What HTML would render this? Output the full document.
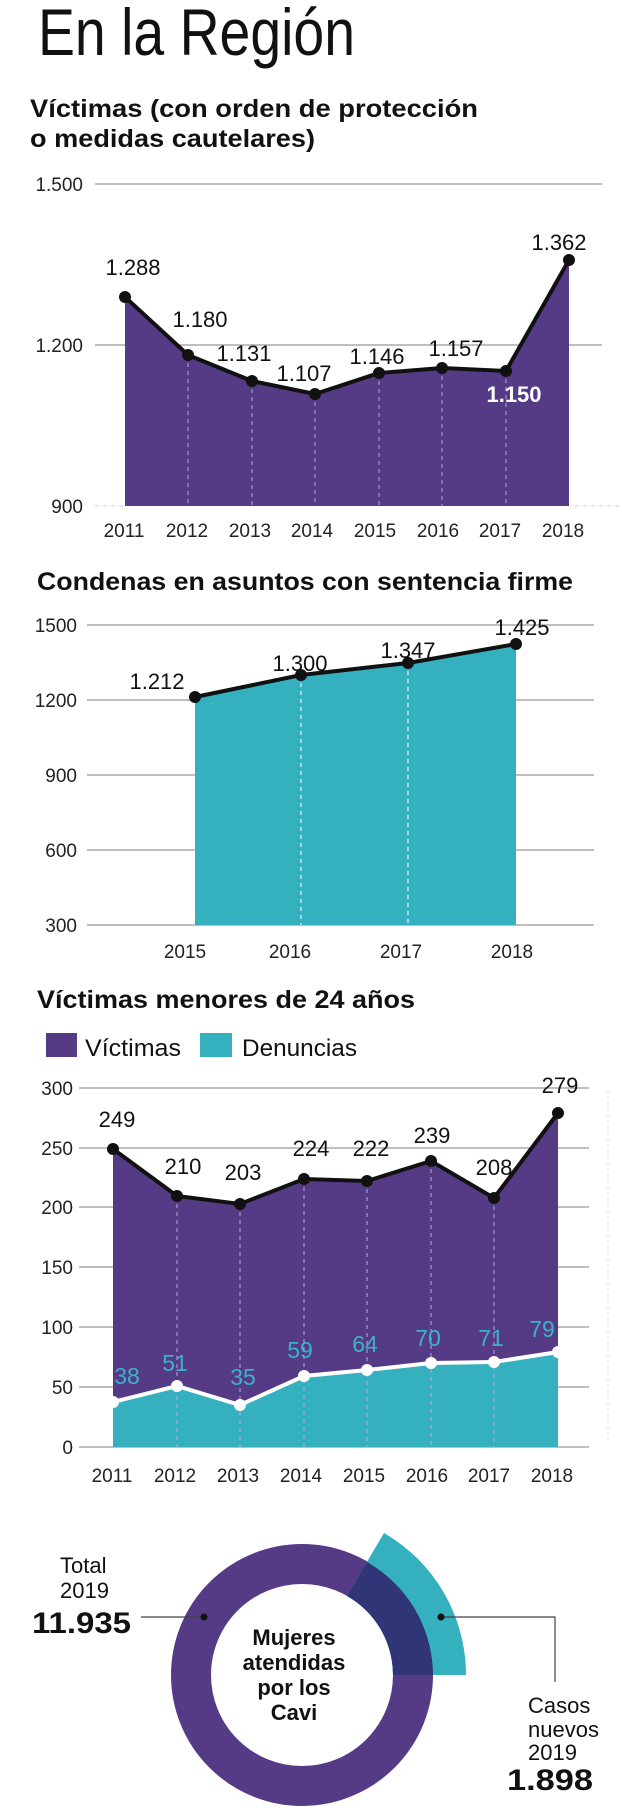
<!DOCTYPE html>
<html><head><meta charset="utf-8"><style>
html,body{margin:0;padding:0;background:#fff}
svg{display:block}
text{font-family:"Liberation Sans Narrow","Liberation Sans",sans-serif;fill:#111}
.t{font-family:"Liberation Sans",sans-serif;font-weight:300}
.h{font-weight:bold;font-size:25px}
.ax{font-size:19px}
.ax text{fill:#222}
.v{font-size:22px}
.tv{font-size:23px}
.tv text{fill:#3ab4c6}
.g{stroke:#aaa;stroke-width:1.5}
.d{stroke:#b9a8dc;stroke-width:1;stroke-dasharray:4 4}
</style></head><body>
<svg width="622" height="1820" viewBox="0 0 622 1820" xmlns="http://www.w3.org/2000/svg">
<text class="t" x="38" y="55" font-size="66" textLength="317" lengthAdjust="spacingAndGlyphs">En la Región</text>
<text class="h" x="30" y="117" textLength="448" lengthAdjust="spacingAndGlyphs">Víctimas (con orden de protección</text>
<text class="h" x="30" y="147" textLength="285" lengthAdjust="spacingAndGlyphs">o medidas cautelares)</text>

<!-- chart 1 -->
<line class="g" x1="95" y1="184" x2="602" y2="184"/>
<line class="g" x1="95" y1="345" x2="602" y2="345"/>
<line x1="95" y1="506" x2="125" y2="506" stroke="#ccc" stroke-dasharray="4 4"/>
<line x1="575" y1="506" x2="622" y2="506" stroke="#ccc" stroke-dasharray="4 4"/>
<g class="ax" text-anchor="end"><text x="83" y="191">1.500</text><text x="83" y="352">1.200</text><text x="83" y="513">900</text></g>
<polygon fill="#553a86" points="125,506 125,297 188,355 252,381 315,394 379,373 442,368 506,371 569,260 569,506"/>
<g class="d"><line x1="188" y1="355" x2="188" y2="506"/><line x1="252" y1="381" x2="252" y2="506"/><line x1="315" y1="394" x2="315" y2="506"/><line x1="379" y1="373" x2="379" y2="506"/><line x1="442" y1="368" x2="442" y2="506"/><line x1="506" y1="371" x2="506" y2="506"/></g>
<polyline fill="none" stroke="#111" stroke-width="4" points="125,297 188,355 252,381 315,394 379,373 442,368 506,371 569,260"/>
<g fill="#111"><circle cx="125" cy="297" r="6"/><circle cx="188" cy="355" r="6"/><circle cx="252" cy="381" r="6"/><circle cx="315" cy="394" r="6"/><circle cx="379" cy="373" r="6"/><circle cx="442" cy="368" r="6"/><circle cx="506" cy="371" r="6"/><circle cx="569" cy="260" r="6"/></g>
<g class="v" text-anchor="middle"><text x="133" y="275">1.288</text><text x="200" y="327">1.180</text><text x="244" y="361">1.131</text><text x="304" y="381">1.107</text><text x="377" y="364">1.146</text><text x="456" y="356">1.157</text><text x="514" y="402" style="fill:#fff;font-weight:bold">1.150</text><text x="559" y="250">1.362</text></g>
<g class="ax" text-anchor="middle"><text x="124" y="537">2011</text><text x="187" y="537">2012</text><text x="250" y="537">2013</text><text x="312" y="537">2014</text><text x="375" y="537">2015</text><text x="438" y="537">2016</text><text x="500" y="537">2017</text><text x="563" y="537">2018</text></g>

<!-- chart 2 -->
<text class="h" x="37" y="590" textLength="536" lengthAdjust="spacingAndGlyphs">Condenas en asuntos con sentencia firme</text>
<g class="g"><line x1="87" y1="625" x2="594" y2="625"/><line x1="87" y1="700" x2="594" y2="700"/><line x1="87" y1="775" x2="594" y2="775"/><line x1="87" y1="850" x2="594" y2="850"/><line x1="87" y1="925" x2="594" y2="925"/></g>
<g class="ax" text-anchor="end"><text x="77" y="632">1500</text><text x="77" y="707">1200</text><text x="77" y="782">900</text><text x="77" y="857">600</text><text x="77" y="932">300</text></g>
<polygon fill="#35b0bf" points="195,925 195,697 301,675 408,663 516,644 516,925"/>
<g stroke="#e6f7fa" stroke-width="1.2" stroke-dasharray="4 4"><line x1="301" y1="675" x2="301" y2="925"/><line x1="408" y1="663" x2="408" y2="925"/></g>
<polyline fill="none" stroke="#111" stroke-width="4" points="195,697 301,675 408,663 516,644"/>
<g fill="#111"><circle cx="195" cy="697" r="6"/><circle cx="301" cy="675" r="6"/><circle cx="408" cy="663" r="6"/><circle cx="516" cy="644" r="6"/></g>
<g class="v" text-anchor="middle"><text x="157" y="689">1.212</text><text x="300" y="671">1.300</text><text x="408" y="658">1.347</text><text x="522" y="635">1.425</text></g>
<g class="ax" text-anchor="middle"><text x="185" y="958">2015</text><text x="290" y="958">2016</text><text x="401" y="958">2017</text><text x="512" y="958">2018</text></g>

<!-- chart 3 -->
<text class="h" x="37" y="1008" textLength="378" lengthAdjust="spacingAndGlyphs">Víctimas menores de 24 años</text>
<rect x="46" y="1033" width="31" height="24" fill="#553a86"/>
<text x="85" y="1056" font-size="24" textLength="96" lengthAdjust="spacingAndGlyphs">Víctimas</text>
<rect x="200" y="1033" width="32" height="24" fill="#35b0bf"/>
<text x="242" y="1056" font-size="24" textLength="115" lengthAdjust="spacingAndGlyphs">Denuncias</text>
<g class="g"><line x1="79" y1="1088" x2="589" y2="1088"/><line x1="79" y1="1148" x2="589" y2="1148"/><line x1="79" y1="1207" x2="589" y2="1207"/><line x1="79" y1="1267" x2="589" y2="1267"/><line x1="79" y1="1327" x2="589" y2="1327"/><line x1="79" y1="1387" x2="589" y2="1387"/><line x1="79" y1="1447" x2="589" y2="1447"/></g>
<line x1="608" y1="1090" x2="608" y2="1440" stroke="#ddd" stroke-dasharray="3 3"/>
<g class="ax" text-anchor="end"><text x="73" y="1095">300</text><text x="73" y="1155">250</text><text x="73" y="1214">200</text><text x="73" y="1274">150</text><text x="73" y="1334">100</text><text x="73" y="1394">50</text><text x="73" y="1454">0</text></g>
<polygon fill="#553a86" points="113,1447 113,1149 177,1196 240,1204 304,1179 367,1181 431,1161 494,1198 558,1113 558,1447"/>
<polygon fill="#35b0bf" points="113,1447 113,1402 177,1386 240,1405 304,1376 367,1370 431,1363 494,1362 558,1352 558,1447"/>
<g class="d"><line x1="177" y1="1196" x2="177" y2="1447"/><line x1="240" y1="1204" x2="240" y2="1447"/><line x1="304" y1="1179" x2="304" y2="1447"/><line x1="367" y1="1181" x2="367" y2="1447"/><line x1="431" y1="1161" x2="431" y2="1447"/><line x1="494" y1="1198" x2="494" y2="1447"/></g>
<polyline fill="none" stroke="#111" stroke-width="4" points="113,1149 177,1196 240,1204 304,1179 367,1181 431,1161 494,1198 558,1113"/>
<g fill="#111"><circle cx="113" cy="1149" r="6"/><circle cx="177" cy="1196" r="6"/><circle cx="240" cy="1204" r="6"/><circle cx="304" cy="1179" r="6"/><circle cx="367" cy="1181" r="6"/><circle cx="431" cy="1161" r="6"/><circle cx="494" cy="1198" r="6"/><circle cx="558" cy="1113" r="6"/></g>
<polyline fill="none" stroke="#fff" stroke-width="4" points="113,1402 177,1386 240,1405 304,1376 367,1370 431,1363 494,1362 558,1352"/>
<g fill="#fff"><circle cx="113" cy="1402" r="6"/><circle cx="177" cy="1386" r="6"/><circle cx="240" cy="1405" r="6"/><circle cx="304" cy="1376" r="6"/><circle cx="367" cy="1370" r="6"/><circle cx="431" cy="1363" r="6"/><circle cx="494" cy="1362" r="6"/><circle cx="558" cy="1352" r="6"/></g>
<g class="v" text-anchor="middle"><text x="117" y="1127">249</text><text x="183" y="1174">210</text><text x="243" y="1180">203</text><text x="311" y="1156">224</text><text x="371" y="1156">222</text><text x="432" y="1143">239</text><text x="494" y="1175">208</text><text x="560" y="1093">279</text></g>
<g class="tv" text-anchor="middle"><text x="127" y="1384">38</text><text x="175" y="1371">51</text><text x="243" y="1385">35</text><text x="300" y="1358">59</text><text x="365" y="1352">64</text><text x="428" y="1346">70</text><text x="491" y="1346">71</text><text x="542" y="1337">79</text></g>
<g class="ax" text-anchor="middle"><text x="112" y="1482">2011</text><text x="175" y="1482">2012</text><text x="238" y="1482">2013</text><text x="301" y="1482">2014</text><text x="364" y="1482">2015</text><text x="427" y="1482">2016</text><text x="489" y="1482">2017</text><text x="552" y="1482">2018</text></g>

<!-- donut -->
<circle cx="302" cy="1675" r="111" fill="none" stroke="#553a86" stroke-width="40"/>
<path d="M393,1675 L466,1675 A164,164 0 0 0 384,1533 L347,1596 A91,91 0 0 1 393,1675 Z" fill="#35b0bf"/>
<path d="M393,1675 L433,1675 A131,131 0 0 0 367,1562 L347,1596 A91,91 0 0 1 393,1675 Z" fill="#2f3577"/>
<g font-weight="bold" font-size="22" text-anchor="middle"><text x="294" y="1645">Mujeres</text><text x="294" y="1670">atendidas</text><text x="294" y="1695">por los</text><text x="294" y="1720">Cavi</text></g>
<text x="60" y="1573" font-size="22">Total</text>
<text x="60" y="1598" font-size="22">2019</text>
<text x="32" y="1633" font-size="30" font-weight="bold" textLength="99" lengthAdjust="spacingAndGlyphs">11.935</text>
<line x1="141" y1="1617" x2="204" y2="1617" stroke="#444" stroke-width="1.2"/>
<circle cx="204" cy="1617" r="3.5" fill="#111"/>
<polyline points="441,1617 555,1617 555,1682" fill="none" stroke="#444" stroke-width="1.2"/>
<circle cx="441" cy="1617" r="3.5" fill="#111"/>
<text x="528" y="1713" font-size="22">Casos</text>
<text x="528" y="1737" font-size="22">nuevos</text>
<text x="528" y="1760" font-size="22">2019</text>
<text x="507" y="1790" font-size="30" font-weight="bold" textLength="86" lengthAdjust="spacingAndGlyphs">1.898</text>
</svg>
</body></html>
